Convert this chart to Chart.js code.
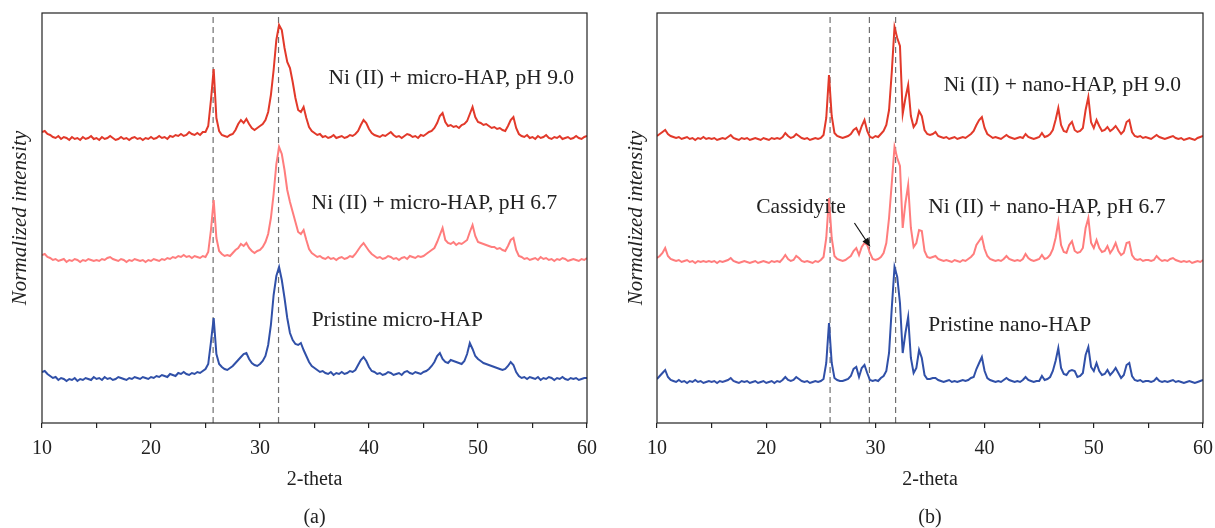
<!DOCTYPE html>
<html>
<head>
<meta charset="utf-8">
<script src="https://cdn.jsdelivr.net/npm/chart.js@4.4.0/dist/chart.umd.min.js"></script>
<style>
  html, body { margin: 0; padding: 0; background: #fff; }
  #wrap { position: relative; width: 1215px; height: 528px; }
  #wrap canvas { position: absolute; top: 0; }
</style>
</head>
<body>
<div id="wrap">
  <canvas id="chartA" width="607" height="528" style="left:0"></canvas>
  <canvas id="chartB" width="608" height="528" style="left:607px"></canvas>
</div>
<script>
// 2-theta sampling grid, 10 to 60 deg, 0.25 deg step
const thetaStart = 10, thetaStep = 0.25, thetaCount = 201;
const xTicks = [10, 20, 30, 40, 50, 60];

// intensities above each trace's own baseline
// panel (a) - micro-HAP
const microPH90 = [
  8, 9, 6, 5, 3, 2, 4, 1, 3, 2, 0, 3, 1, 2, 0, 3, 1, 2, 4, 1,
  2, 0, 3, 1, 2, 4, 2, 0, 1, 3, 1, 2, 0, 2, 3, 1, 2, 0, 2, 1,
  3, 1, 2, 4, 2, 3, 1, 4, 3, 5, 4, 6, 4, 5, 8, 6, 5, 7, 5, 8,
  8, 14, 40, 71, 22, 9, 5, 4, 3, 5, 6, 10, 16, 20, 17, 21, 16, 12, 10, 12,
  14, 16, 20, 28, 45, 70, 100, 115, 110, 92, 78, 72, 58, 42, 30, 28, 33, 22, 13, 9,
  7, 5, 6, 3, 4, 2, 3, 5, 2, 3, 4, 2, 3, 5, 4, 6, 9, 15, 20, 17,
  11, 7, 5, 4, 3, 5, 4, 6, 8, 5, 3, 4, 2, 4, 6, 5, 3, 4, 2, 5,
  4, 6, 8, 9, 12, 17, 24, 27, 18, 14, 15, 13, 14, 12, 15, 16, 19, 26, 33, 23,
  18, 17, 15, 16, 14, 12, 13, 11, 12, 10, 9, 14, 20, 23, 12, 6, 4, 3, 5, 2,
  3, 1, 4, 2, 3, 5, 2, 1, 3, 2, 4, 1, 2, 3, 1, 2, 4, 2, 1, 3,
  4
];
const microPH67 = [
  7, 8, 5, 4, 2, 3, 1, 2, 3, 0, 2, 1, 3, 2, 0, 2, 1, 3, 2, 1,
  2, 1, 3, 2, 4, 5, 3, 2, 1, 3, 2, 0, 2, 1, 3, 2, 1, 2, 0, 2,
  1, 3, 2, 1, 3, 2, 4, 3, 5, 4, 6, 5, 7, 5, 6, 4, 6, 5, 4, 6,
  5, 10, 32, 62, 24, 11, 8, 6, 7, 6, 9, 12, 14, 18, 16, 19, 14, 11, 9, 11,
  12, 15, 20, 28, 44, 68, 98, 115, 108, 92, 72, 60, 50, 40, 30, 28, 32, 22, 13, 9,
  7, 5, 6, 4, 3, 5, 3, 4, 2, 4, 5, 3, 4, 6, 5, 8, 12, 16, 19, 15,
  11, 8, 6, 4, 5, 3, 4, 6, 5, 3, 4, 2, 4, 5, 3, 6, 5, 4, 6, 5,
  6, 8, 10, 12, 14, 20, 27, 34, 22, 19, 18, 20, 17, 19, 18, 20, 22, 30, 37, 26,
  20, 19, 18, 17, 16, 15, 15, 13, 14, 12, 11, 16, 22, 24, 12, 6, 5, 3, 4, 2,
  3, 4, 2, 5, 3, 4, 2, 3, 1, 3, 2, 4, 3, 1, 2, 3, 2, 1, 3, 2,
  4
];
const microPristine = [
  8, 9, 6, 4, 2, 3, 0, 2, 1, -1, 1, 0, 2, -1, 1, 0, 2, 1, 0, 3,
  1, 2, 0, 3, 1, 2, 0, 1, 3, 2, 1, 0, 2, 1, 3, 2, 1, 3, 2, 1,
  3, 2, 4, 3, 5, 4, 3, 6, 5, 4, 7, 6, 8, 6, 5, 7, 6, 8, 7, 9,
  11, 16, 38, 62, 26, 16, 13, 11, 10, 12, 14, 17, 20, 23, 26, 27, 21, 17, 15, 14,
  16, 19, 24, 35, 55, 85, 104, 113, 100, 82, 62, 47, 40, 36, 35, 37, 30, 24, 18, 14,
  12, 10, 8, 9, 7, 6, 8, 5, 7, 6, 8, 6, 7, 9, 8, 10, 15, 20, 23, 19,
  13, 9, 8, 6, 7, 5, 6, 8, 7, 5, 6, 7, 5, 8, 9, 7, 6, 8, 7, 6,
  8, 9, 11, 14, 18, 24, 27, 21, 18, 17, 20, 19, 18, 17, 16, 19, 26, 37, 31, 24,
  21, 19, 17, 16, 15, 14, 13, 12, 11, 10, 11, 14, 18, 15, 8, 4, 2, 3, 1, 3,
  2, 1, 3, 0, 2, 1, 3, 2, 0, 2, 1, 3, 1, 0, 2, 1, 2, 0, 1, 2,
  2
];

// panel (b) - nano-HAP
const nanoPH90 = [
  4, 6, 8, 10, 6, 4, 3, 2, 3, 1, 2, 3, 1, 2, 0, 2, 1, 3, 1, 2,
  1, 2, 0, 1, 2, 1, 3, 5, 2, 1, 0, 2, 1, 2, 0, 1, 2, 1, 0, 2,
  1, 0, 2, 1, 2, 1, 3, 7, 4, 2, 3, 6, 4, 2, 1, 2, 0, 1, 2, 1,
  2, 5, 22, 65, 24, 7, 4, 3, 2, 3, 4, 6, 10, 12, 6, 14, 20, 9, 3, 2,
  4, 3, 6, 9, 15, 30, 68, 113, 102, 94, 26, 42, 55, 24, 13, 17, 29, 24, 10, 6,
  5, 6, 8, 4, 3, 2, 3, 1, 2, 3, 1, 2, 3, 2, 4, 6, 9, 15, 20, 23,
  12, 6, 4, 2, 3, 2, 1, 3, 5, 3, 2, 1, 2, 3, 2, 6, 3, 2, 1, 2,
  3, 7, 3, 4, 6, 10, 20, 32, 15, 9, 8, 15, 18, 10, 8, 9, 12, 30, 43, 18,
  12, 20, 14, 9, 10, 13, 9, 11, 14, 10, 6, 9, 18, 20, 8, 4, 3, 4, 2, 3,
  2, 1, 3, 5, 3, 2, 1, 2, 3, 4, 2, 1, 2, 0, 1, 2, 1, 0, 2, 3,
  4
];
const nanoPH67 = [
  5, 7, 10, 15, 7, 4, 3, 2, 3, 1, 2, 3, 1, 2, 0, 2, 1, 2, 1, 2,
  1, 2, 0, 2, 1, 2, 3, 5, 2, 1, 0, 1, 2, 1, 0, 1, 2, 0, 1, 2,
  1, 0, 2, 1, 2, 1, 4, 8, 4, 2, 3, 7, 5, 2, 1, 2, 1, 0, 2, 1,
  3, 6, 25, 65, 25, 7, 4, 3, 2, 3, 5, 7, 12, 15, 8, 16, 20, 18, 10, 4,
  3, 4, 6, 10, 20, 45, 80, 116, 105, 97, 35, 60, 78, 35, 16, 20, 33, 32, 12, 6,
  5, 6, 7, 4, 3, 2, 3, 2, 1, 3, 2, 1, 3, 2, 4, 6, 9, 18, 22, 26,
  14, 7, 4, 3, 2, 3, 2, 4, 7, 4, 3, 2, 3, 2, 4, 9, 5, 3, 2, 3,
  4, 8, 4, 5, 8, 14, 25, 41, 18, 11, 10, 18, 22, 12, 10, 11, 15, 35, 45, 20,
  15, 23, 15, 11, 12, 17, 10, 14, 20, 12, 8, 10, 20, 21, 8, 4, 3, 4, 2, 3,
  3, 2, 3, 7, 4, 2, 3, 2, 4, 5, 3, 2, 1, 2, 1, 2, 0, 1, 2, 1,
  3
];
const nanoPristine = [
  4, 7, 10, 13, 6, 3, 2, 1, 3, 1, 2, 0, 2, 1, 3, 1, 2, 0, 1, 2,
  1, 2, 0, 2, 1, 2, 3, 5, 2, 1, 0, 2, 1, 2, 0, 1, 2, 0, 1, 2,
  0, 1, 2, 0, 2, 1, 3, 6, 3, 2, 3, 6, 4, 2, 1, 2, 0, 1, 2, 1,
  2, 4, 20, 60, 20, 5, 3, 2, 2, 3, 4, 7, 14, 16, 6, 15, 18, 10, 3, 2,
  3, 2, 5, 7, 12, 30, 75, 116, 106, 80, 30, 50, 66, 25, 10, 15, 33, 25, 8, 4,
  4, 5, 5, 3, 2, 1, 2, 3, 1, 2, 1, 2, 3, 2, 3, 5, 6, 14, 20, 26,
  12, 5, 3, 2, 1, 2, 1, 3, 5, 3, 2, 1, 2, 1, 3, 6, 3, 2, 1, 2,
  2, 7, 3, 4, 6, 12, 22, 35, 15, 9, 8, 12, 13, 12, 6, 7, 10, 28, 36, 16,
  12, 20, 12, 8, 9, 13, 8, 11, 15, 10, 5, 8, 18, 20, 7, 3, 2, 3, 1, 2,
  2, 1, 2, 5, 2, 1, 2, 1, 2, 3, 1, 2, 1, 0, 1, 2, 1, 0, 1, 2,
  3
];

// vertical stacking offsets (top, middle, bottom trace)
const offsetsA = [283, 161, 43];
const offsetsB = [283, 160, 40];
// reference positions marked with dashed lines
const refLinesA = [25.7, 31.7];
const refLinesB = [25.85, 29.45, 31.85];

const colors = ['#e2392a', '#ff7d7d', '#3050a8'];
const yMax = 410;
const serif = '"Liberation Serif", "Times New Roman", serif';

const twoTheta = [];
for (let i = 0; i < thetaCount; i++) twoTheta.push(thetaStart + i * thetaStep);

function trace(values, offset) {
  return values.map((v, i) => ({ x: twoTheta[i], y: v + offset }));
}

function makeDatasets(series, offsets, refLines) {
  const ds = series.map((vals, k) => ({
    data: trace(vals, offsets[k]),
    borderColor: colors[k],
    borderWidth: 2,
    pointRadius: 0,
    tension: 0,
    order: 1
  }));
  refLines.forEach(t => {
    ds.push({
      data: [{ x: t, y: 0 }, { x: t, y: yMax }],
      borderColor: '#707070',
      borderWidth: 1.2,
      borderDash: [6, 4],
      pointRadius: 0,
      order: 2
    });
  });
  return ds;
}

// frame, text labels and arrow
const decor = {
  id: 'decor',
  afterDraw(chart, args, opts) {
    const { ctx, chartArea: a, scales: { x, y } } = chart;
    ctx.save();
    ctx.strokeStyle = '#222';
    ctx.lineWidth = 1.2;
    ctx.strokeRect(a.left, a.top, a.right - a.left, a.bottom - a.top);

    ctx.fillStyle = '#222';
    ctx.textAlign = 'center';
    ctx.textBaseline = 'middle';
    ctx.font = '21.5px ' + serif;
    opts.labels.forEach(l => {
      ctx.fillText(l.text, x.getPixelForValue(l.x), y.getPixelForValue(l.y));
    });

    const cx = (a.left + a.right) / 2;
    ctx.font = '20px ' + serif;
    ctx.fillText('2-theta', cx, 480);
    ctx.fillText(opts.panel, cx, 518);

    ctx.save();
    ctx.translate(opts.yTitleX, (a.top + a.bottom) / 2);
    ctx.rotate(-Math.PI / 2);
    ctx.font = 'italic 21px ' + serif;
    ctx.fillText('Normalized intensity', 0, 0);
    ctx.restore();

    if (opts.arrow) {
      const x0 = x.getPixelForValue(opts.arrow.from[0]), y0 = y.getPixelForValue(opts.arrow.from[1]);
      const x1 = x.getPixelForValue(opts.arrow.to[0]), y1 = y.getPixelForValue(opts.arrow.to[1]);
      const ang = Math.atan2(y1 - y0, x1 - x0);
      ctx.strokeStyle = '#111';
      ctx.lineWidth = 1.2;
      ctx.beginPath();
      ctx.moveTo(x0, y0);
      ctx.lineTo(x1 - 6 * Math.cos(ang), y1 - 6 * Math.sin(ang));
      ctx.stroke();
      ctx.fillStyle = '#111';
      ctx.beginPath();
      ctx.moveTo(x1, y1);
      ctx.lineTo(x1 - 9 * Math.cos(ang) + 3.5 * Math.sin(ang), y1 - 9 * Math.sin(ang) - 3.5 * Math.cos(ang));
      ctx.lineTo(x1 - 9 * Math.cos(ang) - 3.5 * Math.sin(ang), y1 - 9 * Math.sin(ang) + 3.5 * Math.cos(ang));
      ctx.closePath();
      ctx.fill();
    }
    ctx.restore();
  }
};

function makeChart(id, datasets, yAxisWidth, rightPad, decorOpts) {
  return new Chart(document.getElementById(id), {
    type: 'line',
    data: { datasets },
    options: {
      responsive: false,
      animation: false,
      devicePixelRatio: 1,
      layout: { padding: { left: 0, right: rightPad, top: 13, bottom: 0 } },
      plugins: { legend: { display: false }, tooltip: { enabled: false }, decor: decorOpts },
      scales: {
        x: {
          type: 'linear',
          min: 10,
          max: 60,
          afterFit: s => {
            s.height = 105;
            s.paddingLeft = 0;
            s.paddingRight = 0;
          },
          afterBuildTicks: s => {
            s.ticks = [];
            for (let v = 10; v <= 60; v += 5) s.ticks.push({ value: v });
          },
          ticks: {
            callback: v => (xTicks.includes(v) ? String(v) : ''),
            font: { family: serif, size: 20 },
            color: '#222',
            padding: 9,
            maxRotation: 0,
            autoSkip: false
          },
          grid: { drawOnChartArea: false, drawTicks: true, tickLength: 5, color: '#222', lineWidth: 1.2 },
          border: { display: false }
        },
        y: {
          min: 0,
          max: yMax,
          afterFit: s => { s.width = yAxisWidth; },
          ticks: { display: false },
          grid: { display: false },
          border: { display: false }
        }
      }
    },
    plugins: [decor]
  });
}

makeChart('chartA', makeDatasets([microPH90, microPH67, microPristine], offsetsA, refLinesA), 42, 20, {
  panel: '(a)',
  yTitleX: 20,
  labels: [
    { text: 'Ni (II) + micro-HAP, pH 9.0', x: 47.55, y: 345 },
    { text: 'Ni (II) + micro-HAP, pH 6.7', x: 46.0, y: 220 },
    { text: 'Pristine micro-HAP', x: 42.6, y: 103 }
  ]
});

makeChart('chartB', makeDatasets([nanoPH90, nanoPH67, nanoPristine], offsetsB, refLinesB), 50, 12, {
  panel: '(b)',
  yTitleX: 29,
  labels: [
    { text: 'Ni (II) + nano-HAP, pH 9.0', x: 47.13, y: 338 },
    { text: 'Ni (II) + nano-HAP, pH 6.7', x: 45.7, y: 216 },
    { text: 'Pristine nano-HAP', x: 42.3, y: 98 },
    { text: 'Cassidyite', x: 23.19, y: 216 }
  ],
  arrow: { from: [28.08, 200], to: [29.54, 176] }
});
</script>
</body>
</html>
